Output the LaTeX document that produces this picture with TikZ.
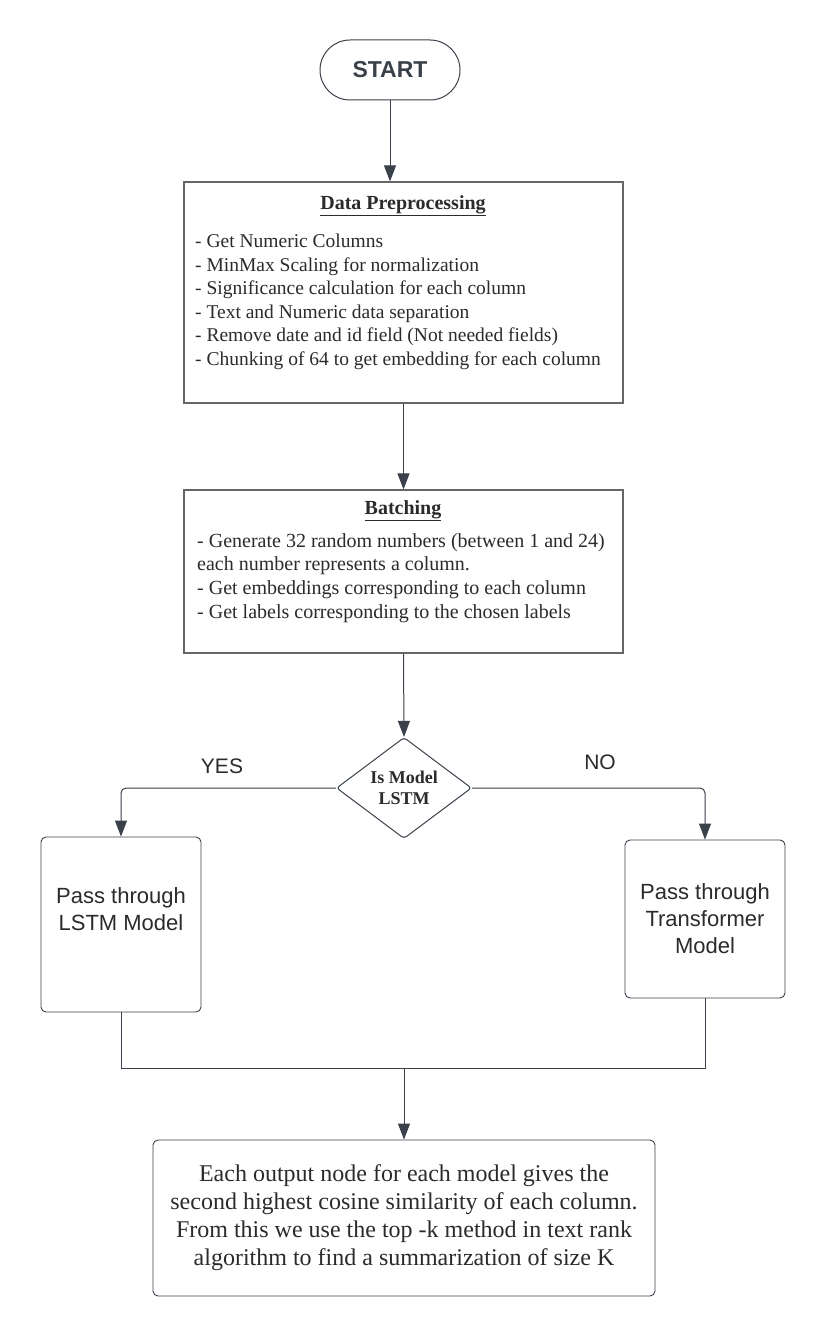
\documentclass[tikz,border=0pt]{standalone}
\usepackage{fontspec}
\setmainfont{Liberation Serif}
\setsansfont{Liberation Sans}
\usetikzlibrary{shapes.geometric,arrows.meta,positioning}
\definecolor{flowline}{HTML}{3A414A}
\definecolor{boxgray}{HTML}{666666}
\definecolor{inktext}{HTML}{2B2B2B}
\begin{document}
\begin{tikzpicture}[x=1pt,y=-1pt,
	arr/.style={-{Triangle[length=16pt,width=12pt]},draw=flowline,line width=1pt},
	link/.style={draw=flowline,line width=1pt},
	plainbox/.style={draw=boxgray,line width=1.2pt,rectangle,inner sep=0pt},
	roundbox/.style={draw=flowline,line width=0.9pt,rectangle,rounded corners=5pt,inner sep=0pt,align=center,text=inktext},
	listtext/.style={anchor=north west,inner sep=0pt,align=left,text=inktext,font=\fontsize{19.5}{23.5}\selectfont},
	headtext/.style={inner sep=0pt,text=inktext,font=\bfseries\fontsize{20}{24}\selectfont},
	branchtext/.style={inner sep=0pt,text=inktext,font=\sffamily\fontsize{21}{25}\selectfont}]
	\useasboundingbox[fill=white] (0,0) rectangle (820,1337);

	% start
	\node [draw=flowline, line width=1pt, rounded corners=30pt, minimum width=140pt, minimum height=60pt, text=flowline, font=\sffamily\bfseries\fontsize{23}{27}\selectfont] (start) at (390,70) {START};

	% data preprocessing
	\node [plainbox, minimum width=439pt, minimum height=221pt] (prep) at (403.5,292.5) {};
	\node [headtext] (prephead) at (403,206) {\underline{Data Preprocessing}};
	\node [listtext] (preplist) at (195,234) {- Get Numeric Columns\\
		- MinMax Scaling for normalization\\
		- Significance calculation for each column\\
		- Text and Numeric data separation\\
		- Remove date and id field (Not needed fields)\\
		- Chunking of 64 to get embedding for each column};

	% batching
	\node [plainbox, minimum width=439pt, minimum height=163pt] (batch) at (403.5,571.5) {};
	\node [headtext] (batchhead) at (403,511) {\underline{Batching}};
	\node [listtext, font=\fontsize{20}{23.7}\selectfont] (batchlist) at (197,533) {- Generate 32 random numbers (between 1 and 24)\\
		each number represents a column.\\
		- Get embeddings corresponding to each column\\
		- Get labels corresponding to the chosen labels};

	% decision
	\node [diamond, draw=flowline, line width=1pt, rounded corners=3pt, inner sep=0pt, minimum width=135pt, minimum height=96pt, align=center, text=inktext, font=\bfseries\fontsize{18}{21}\selectfont] (islstm) at (404,788) {Is Model\\LSTM};
	\node [branchtext] (yes) at (222,766) {YES};
	\node [branchtext] (no) at (600,762) {NO};

	% models
	\node [roundbox, minimum width=160pt, minimum height=175pt, font=\sffamily\fontsize{22}{27}\selectfont] (lstm) at (121,924.5) {Pass through\\LSTM Model\\[-4pt]\strut};
	\node [roundbox, minimum width=160pt, minimum height=158pt, font=\sffamily\fontsize{22}{27}\selectfont] (trf) at (705,919) {Pass through\\Transformer\\Model};

	% output
	\coordinate (merge) at (404,1068);
	\node [roundbox, minimum width=502pt, minimum height=156pt, font=\fontsize{24}{28}\selectfont] (result) at (404,1218) {Each output node for each model gives the\\
		second highest cosine similarity of each column.\\
		From this we use the top -k method in text rank\\
		algorithm to find a summarization of size K};

	% connectors
	\draw [arr] (start.south) -- (start.south |- prep.north);
	\draw [arr] (prep.south) -- (batch.north);
	\draw [arr] (batch.south) -- (islstm.north);
	\draw [arr, rounded corners=5pt] (islstm.west) -| (lstm.north);
	\draw [arr, rounded corners=5pt] (islstm.east) -| (trf.north);
	\draw [link] (lstm.south) |- (merge);
	\draw [link] (trf.south) |- (merge);
	\draw [arr] (merge) -- (result.north);
\end{tikzpicture}
\end{document}
